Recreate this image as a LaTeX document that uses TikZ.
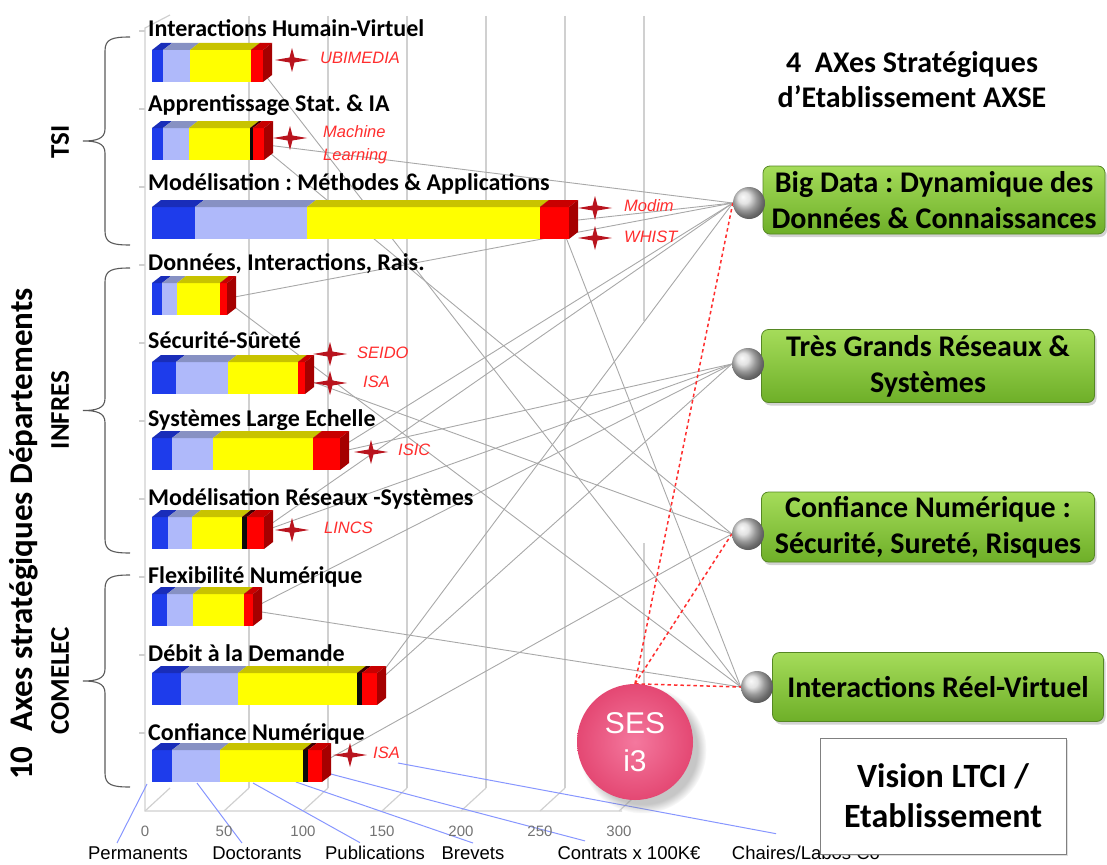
\documentclass[tikz,border=0pt]{standalone}
\usepackage{fontspec}
\setmainfont{Carlito}
\newfontfamily\arialf{Liberation Sans}
\usetikzlibrary{shadows,calc}
\pgfdeclarelayer{bg}
\pgfsetlayers{bg,main}

\definecolor{blu}{RGB}{30,60,235}
\definecolor{blutop}{RGB}{25,45,185}
\definecolor{lav}{RGB}{175,185,250}
\definecolor{lavtop}{RGB}{135,145,195}
\definecolor{yel}{RGB}{255,255,0}
\definecolor{yeltop}{RGB}{200,195,0}
\definecolor{blk}{RGB}{10,10,10}
\definecolor{blktop}{RGB}{60,0,0}
\definecolor{rd}{RGB}{255,0,0}
\definecolor{rdtop}{RGB}{200,0,0}
\definecolor{rdside}{RGB}{165,0,0}
\definecolor{gridc}{RGB}{208,208,208}
\definecolor{linkc}{RGB}{168,168,168}
\definecolor{leadc}{RGB}{135,150,255}
\definecolor{starc}{RGB}{185,20,30}
\definecolor{labc}{RGB}{255,45,45}
\definecolor{greentop}{RGB}{165,220,90}
\definecolor{greenbot}{RGB}{110,175,40}
\definecolor{greenedge}{RGB}{85,135,35}
\definecolor{sesin}{RGB}{244,120,158}
\definecolor{sesout}{RGB}{228,72,115}
\definecolor{bracec}{RGB}{90,90,90}

% one coloured slice of a 3D bar: x1, x2, top, bottom, colour
\newcommand{\barface}[5]{%
  \fill[#5] (#1,#3) rectangle (#2,#4);
  \fill[#5top] (#1,#3) -- ({#1+9},{#3-7}) -- ({#2+9},{#3-7}) -- (#2,#3) -- cycle;}

% full stacked bar: top, end of blue, lavender, yellow, black, red
\newcommand{\stackbar}[6]{%
  \barface{152}{#2}{#1}{#1+32}{blu}
  \barface{#2}{#3}{#1}{#1+32}{lav}
  \barface{#3}{#4}{#1}{#1+32}{yel}
  \barface{#4}{#5}{#1}{#1+32}{blk}
  \barface{#5}{#6}{#1}{#1+32}{rd}
  \fill[rdside] (#6,#1) -- ({#6+9},{#1-7}) -- ({#6+9},{#1+25}) -- (#6,{#1+32}) -- cycle;}

% department brace between two heights
\newcommand{\deptbrace}[2]{%
  \draw[bracec, line width=1.1pt]
    (130,#1) .. controls (112,#1) and (105,{#1+2}) .. (105,{#1+14})
    -- (105,{(#1+#2)/2-12})
    .. controls (105,{(#1+#2)/2-2}) and (96,{(#1+#2)/2}) .. (83,{(#1+#2)/2})
    .. controls (96,{(#1+#2)/2}) and (105,{(#1+#2)/2+2}) .. (105,{(#1+#2)/2+12})
    -- (105,{#2-14})
    .. controls (105,{#2-2}) and (112,#2) .. (130,#2);}

\tikzset{
  redstar/.pic={\fill[starc] (-17,0) -- (-2.5,-2.5) -- (0,-12) -- (2.5,-2.5) -- (17,0)
     -- (2.5,2.5) -- (0,12) -- (-2.5,2.5) -- cycle;},
}

\begin{document}
\frenchspacing
\begin{tikzpicture}[x=1pt,y=-1pt,
  title/.style={anchor=base west, inner sep=0, font=\bfseries\fontsize{24}{28}\selectfont},
  dept/.style={rotate=90, font=\bfseries\fontsize{27}{30}\selectfont},
  starlab/.style={anchor=west, inner sep=0, text=labc, font=\arialf\itshape\fontsize{16.5}{19}\selectfont},
  tick/.style={text=gray!90!black, font=\arialf\fontsize{15}{17}\selectfont},
  catlab/.style={font=\arialf\fontsize{18.5}{21}\selectfont},
  grid/.style={draw=gridc, line width=1.2pt},
  link/.style={draw=linkc, line width=0.9pt},
  lead/.style={draw=leadc, line width=1pt},
  sesdash/.style={draw=labc, line width=1.5pt, dash pattern=on 3.5pt off 3pt},
  sphere/.style={circle, minimum size=32pt, inner sep=0, ball color=gray!30},
  axisbox/.style={rounded corners=7pt, top color=greentop, bottom color=greenbot,
     draw=greenedge, line width=0.8pt, inner sep=0, align=center, text=black,
     font=\bfseries\fontsize{30}{36}\selectfont,
     drop shadow={shadow xshift=2pt, shadow yshift=-3pt, opacity=0.35}},
]
\useasboundingbox (0,0) rectangle (1107,864);

% ---------- department braces and labels ----------
\deptbrace{37}{245}
\deptbrace{268}{553}
\deptbrace{575}{787}
\node[dept] (tsi) at (60,142) {TSI};
\node[dept] (infres) at (60,410) {INFRES};
\node[dept] (comelec) at (60,681) {COMELEC};
\node[rotate=90, font=\bfseries\fontsize{33}{36}\selectfont] (axes10) at (24,534)
  {10\ \ Axes stratégiques Départements};

% ---------- stacked bars ----------
\stackbar{50}{163}{190}{251}{251}{263}
\stackbar{128}{163}{189}{250}{253}{264}
\stackbar{207}{195}{307}{540}{540}{569}
\stackbar{283}{162}{177}{220}{220}{227}
\stackbar{362}{176}{228}{298}{298}{305}
\stackbar{438}{172}{213}{313}{313}{340}
\stackbar{517}{168}{192}{242}{247}{264}
\stackbar{594}{167}{193}{244}{244}{253}
\stackbar{673}{181}{238}{357}{362}{377}
\stackbar{750}{172}{220}{303}{308}{322}

% link start points inside the red end of each bar
\coordinate (p1) at (258,66);
\coordinate (p2) at (259,144);
\coordinate (p3) at (560,222);
\coordinate (p4) at (224,299);
\coordinate (p5) at (302,378);
\coordinate (p6) at (330,454);
\coordinate (p7) at (258,533);
\coordinate (p8) at (249,610);
\coordinate (p9) at (370,689);
\coordinate (p10) at (316,766);

% ---------- bar titles ----------
\node[title] (t1) at (148,37) {Interactions Humain-Virtuel};
\node[title] (t2) at (148,112) {Apprentissage Stat. \& IA};
\node[title] (t3) at (148,190) {Modélisation : Méthodes \& Applications};
\node[title] (t4) at (148,270) {Données, Interactions, Rais.};
\node[title] (t5) at (148,348) {Sécurité-Sûreté};
\node[title] (t6) at (148,426) {Systèmes Large Echelle};
\node[title] (t7) at (148,505) {Modélisation Réseaux -Systèmes};
\node[title] (t8) at (148,583) {Flexibilité Numérique};
\node[title] (t9) at (148,661) {Débit à la Demande};
\node[title] (t10) at (148,740) {Confiance Numérique};

% ---------- laboratories ----------
\pic at (292,60) {redstar};
\node[starlab] (lubi) at (320,58) {UBIMEDIA};
\pic at (290,138) {redstar};
\node[starlab] (lml1) at (323,132) {Machine};
\node[starlab] (lml2) at (323,156) {Learning};
\pic at (595,208) {redstar};
\node[starlab] (lmod) at (624,206) {Modim};
\pic at (595,238) {redstar};
\node[starlab] (lwh) at (624,237) {WHIST};
\pic at (330,354) {redstar};
\node[starlab] (lsei) at (357,353) {SEIDO};
\pic at (330,383) {redstar};
\node[starlab] (lisa1) at (363,382) {ISA};
\pic at (371,452) {redstar};
\node[starlab] (lisic) at (398,450) {ISIC};
\pic at (292,530) {redstar};
\node[starlab] (llin) at (324,528) {LINCS};
\pic at (350,755) {redstar};
\node[starlab] (lisa2) at (373,753) {ISA};

% ---------- axis values and categories ----------
\foreach \v [count=\i from 0] in {0,50,100,150,200,250,300}
  \node[tick] (n\i) at ({145+79*\i},831) {\v};
\node[catlab] (lperm) at (138,853) {Permanents};
\node[catlab] (ldoc) at (257,853) {Doctorants};
\node[catlab] (lpub) at (375,853) {Publications};
\node[catlab] (lbre) at (473,853) {Brevets};
\node[catlab] (lcon) at (629,853) {Contrats x 100K€};
\node[catlab] (lcha) at (806,853) {Chaires/Labos Co};
\coordinate (bperm) at (147,784);
\coordinate (bdoc) at (197,783);
\coordinate (bpub) at (253,783);
\coordinate (bbre) at (296,782);
\coordinate (bcon) at (327,773);
\coordinate (bcha) at (398,763);

% ---------- establishment axes ----------
\node[font=\bfseries\fontsize{30}{35}\selectfont, align=center] (head) at (912,80)
  {4\ \ AXes Stratégiques\\d’Etablissement AXSE};
\node[axisbox, minimum width=342pt, minimum height=68pt] (a1) at (934,200)
  {Big Data : Dynamique des\\Données \& Connaissances};
\node[axisbox, minimum width=333pt, minimum height=73pt] (a2) at (928,366)
  {Très Grands Réseaux \&\\Systèmes};
\node[axisbox, minimum width=333pt, minimum height=70pt] (a3) at (928,527)
  {Confiance Numérique :\\Sécurité, Sureté, Risques};
\node[axisbox, minimum width=331pt, minimum height=69pt] (a4) at (938,687)
  {Interactions Réel-Virtuel};
\node[sphere] (s1) at (749,203) {};
\node[sphere] (s2) at (748,364) {};
\node[sphere] (s3) at (748,534) {};
\node[sphere] (s4) at (757,687) {};

\node[draw=gray, line width=1pt, fill=white, minimum width=246pt, minimum height=116pt,
      align=center, font=\bfseries\fontsize{34}{40}\selectfont,
      drop shadow={shadow xshift=2pt, shadow yshift=-2pt, opacity=0.25}]
  (vision) at (943,796) {Vision LTCI /\\Etablissement};

\node[circle, minimum size=116pt, inner sep=0, inner color=sesin, outer color=sesout,
      circular drop shadow={shadow xshift=7pt, shadow yshift=-7pt, opacity=0.45},
      text=white, align=center, font=\arialf\fontsize{30}{38}\selectfont]
  (ses) at (635,742) {SES\\i3};

% ---------- background: chart frame and links ----------
\begin{pgfonlayer}{bg}
  \foreach \k in {1,...,5} \draw[grid] ({170+79*\k},16) -- ({170+79*\k},788);
  \draw[grid] (644,16) -- (644,321) (644,543) -- (644,788);
  \draw[grid] (170,15) -- (145,28) -- (145,811) -- (622,811);
  \foreach \k in {0,...,6} \draw[grid] ({145+79*\k},811) -- ({170+79*\k},788);
  \foreach \k in {0,...,9} \draw[grid] (139,{31+78*\k}) -- (145,{31+78*\k});

  \foreach \p in {p2,p3,p4,p6,p7,p9} \draw[link] (\p) -- (s1.west);
  \foreach \p in {p6,p7,p8,p9} \draw[link] (\p) -- (s2.west);
  \foreach \p in {p2,p5,p10} \draw[link] (\p) -- (s3.west);
  \foreach \p in {p1,p3,p4,p8} \draw[link] (\p) -- (s4.west);

  \draw[sesdash] (ses.north) -- (s1.west);
  \draw[sesdash] (ses.north) -- (s3.west);
  \draw[sesdash] (ses.north) -- (s4.west);

  \draw[lead] (bperm) -- ($(lperm.north)+(-21,0)$);
  \draw[lead] (bdoc) -- ($(ldoc.north)+(-15,0)$);
  \draw[lead] (bpub) -- ($(lpub.north)+(-15,0)$);
  \draw[lead] (bbre) -- (lbre.north);
  \draw[lead] (bcon) -- ($(lcon.north)+(-44,-2)$);
  \draw[lead] (bcha) -- ($(lcha.north)+(-30,-9)$);
\end{pgfonlayer}
\end{tikzpicture}
\end{document}
